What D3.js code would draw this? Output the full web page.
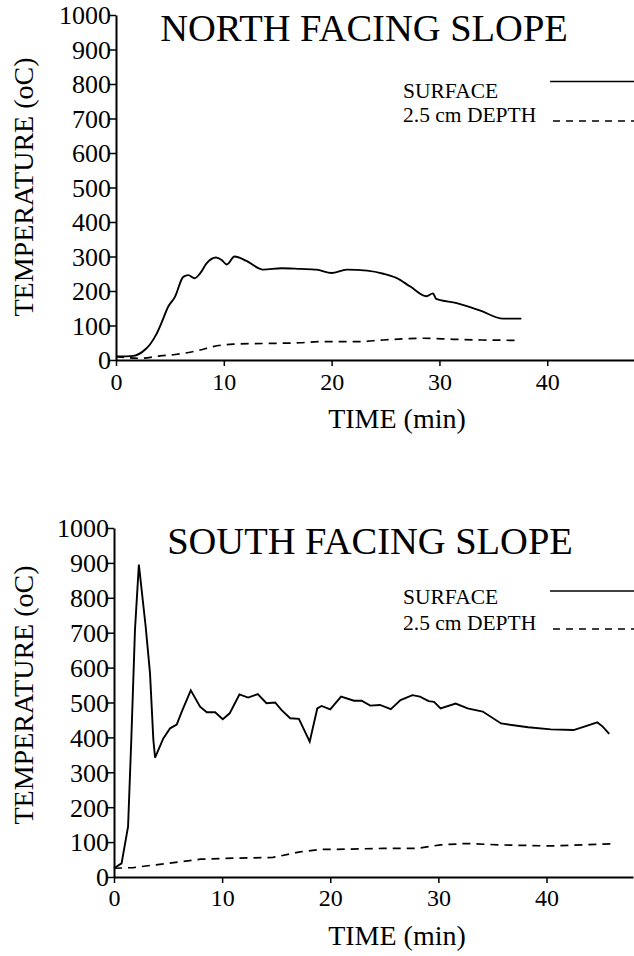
<!DOCTYPE html>
<html>
<head>
<meta charset="utf-8">
<script src="https://cdn.jsdelivr.net/npm/d3@7/dist/d3.min.js"></script>
</head>
<body style="margin:0">
<svg id="chart" width="634" height="956" font-family="Liberation Serif"></svg>
<script>
// ---- Data ----
const xTicks = [0, 10, 20, 30, 40];
const yTicks = [0, 100, 200, 300, 400, 500, 600, 700, 800, 900, 1000];
const legendLabels = ["SURFACE", "2.5 cm DEPTH"];
const panelTitles = ["NORTH FACING SLOPE", "SOUTH FACING SLOPE"];
const xLabel = "TIME (min)";
const yLabel = "TEMPERATURE (oC)";

const northSurfaceTime = [0, 1.6, 2.5, 3.15, 3.7, 4.2, 4.85, 5.47, 6.24, 6.7, 7.3, 7.8, 8.4, 9.27, 9.8, 10.27, 11.0, 12.1, 13.65, 15.36, 17.1, 18.6, 20.0, 21.4, 23.3, 24.8, 26.0, 27.3, 28.8, 29.4, 29.7, 31.6, 33.8, 35.9, 37.6];
const northSurfaceTemp = [10, 12, 25, 45, 72, 106, 155, 183, 241, 246, 237, 251, 280, 297, 290, 277, 300, 287, 262, 266, 264, 262, 252, 262, 259, 250, 238, 213, 185, 193, 177, 165, 143, 120, 120];

const northDepthTime = [0, 2.2, 4.1, 5.5, 6.6, 7.8, 9.0, 10.9, 14, 17.1, 18.9, 22.3, 24.8, 28.5, 31.3, 34, 37.2];
const northDepthTemp = [10, 5, 12, 16, 21, 29, 39, 46, 48, 50, 53, 53, 58, 63, 60, 58, 57];

const southSurfaceTime = [0, 0.7, 1.3, 1.6, 1.94, 2.3, 2.93, 3.33, 3.64, 3.8, 4.56, 5.19, 5.8, 6.27, 7.1, 7.96, 8.58, 9.35, 10.06, 10.7, 11.6, 12.4, 13.3, 14.1, 14.9, 15.5, 16.3, 17.1, 18.1, 18.8, 19.2, 20.0, 21.0, 22.2, 22.9, 23.7, 24.6, 25.6, 26.5, 27.6, 28.3, 29.1, 29.6, 30.2, 31.6, 32.7, 34.1, 35.8, 38.3, 40.4, 42.5, 43.5, 44.7, 45.2, 45.8];
const southSurfaceTemp = [25, 39, 144, 393, 708, 895, 717, 584, 393, 342, 397, 426, 437, 474, 535, 488, 472, 472, 452, 469, 523, 514, 524, 498, 500, 478, 455, 453, 388, 483, 490, 480, 517, 505, 505, 491, 493, 481, 507, 521, 517, 504, 502, 483, 497, 483, 474, 440, 429, 423, 421, 431, 443, 431, 410];

const southDepthTime = [0, 1.8, 4.9, 8, 11, 14.7, 17.2, 19.1, 20.3, 24.9, 28.0, 30.2, 32.6, 35.7, 40.3, 46];
const southDepthTemp = [25, 27, 39, 51, 54, 56, 72, 79, 79, 82, 82, 92, 96, 92, 89, 95];

// ---- Layout ----
const panels = [
  { title: panelTitles[0], sT: northSurfaceTime, sV: northSurfaceTemp, dT: northDepthTime, dV: northDepthTemp,
    x0: 116, x1: 633.5, yTop: 15, yBot: 360, titleX: 364, titleY: 41, yLabelY: 187,
    tickLabelY: 390, xLabelX: 397, xLabelY: 428, legY: [98, 122], legLineY: [81.5, 121], curve: d3.curveMonotoneX },
  { title: panelTitles[1], sT: southSurfaceTime, sV: southSurfaceTemp, dT: southDepthTime, dV: southDepthTemp,
    x0: 114, x1: 633, yTop: 528, yBot: 877, titleX: 370, titleY: 554, yLabelY: 695,
    tickLabelY: 906, xLabelX: 397, xLabelY: 945, legY: [604, 630], legLineY: [591, 629], curve: d3.curveLinear }
];

const svg = d3.select("#chart");

function serif(sel, size) {
  return sel.attr("font-family", "Liberation Serif").attr("font-size", size)
    .style("font-family", "'Liberation Serif', monospace").style("font-size", size + "px");
}

panels.forEach(p => {
  const g = svg.append("g");
  const x = d3.scaleLinear().domain([0, 48]).range([p.x0, p.x1]);
  const y = d3.scaleLinear().domain([0, 1000]).range([p.yBot, p.yTop]);

  // y axis
  const yAxis = g.append("g").attr("transform", `translate(${p.x0},0)`)
    .call(d3.axisLeft(y).tickValues(yTicks).tickSize(8).tickSizeOuter(0).tickPadding(3).tickFormat(d3.format("d")));
  yAxis.attr("font-family", "Liberation Serif").attr("font-size", 26);
  yAxis.select(".domain").attr("stroke-width", 2);
  yAxis.selectAll(".tick line").attr("stroke-width", 1.5);
  serif(yAxis.selectAll("text"), 26).attr("dy", "0.34em").attr("x", -5);

  // x axis
  const xAxis = g.append("g").attr("transform", `translate(0,${p.yBot})`)
    .call(d3.axisBottom(x).tickValues(xTicks).tickSize(6).tickSizeOuter(0).tickFormat(d3.format("d")));
  xAxis.attr("font-family", "Liberation Serif").attr("font-size", 24);
  xAxis.select(".domain").attr("stroke-width", 2);
  xAxis.selectAll(".tick line").attr("stroke-width", 1.5);
  serif(xAxis.selectAll("text"), 24).attr("y", p.tickLabelY - p.yBot).attr("dy", 0);

  // lines
  const surf = p.sT.map((t, i) => [t, p.sV[i]]);
  const dep = p.dT.map((t, i) => [t, p.dV[i]]);
  const line = d3.line().x(d => x(d[0])).y(d => y(d[1])).curve(p.curve);
  g.append("path").datum(surf).attr("d", line).attr("fill", "none").attr("stroke", "#000").attr("stroke-width", 1.9);
  g.append("path").datum(dep).attr("d", line).attr("fill", "none").attr("stroke", "#000").attr("stroke-width", 1.7)
    .attr("stroke-dasharray", "8,6");

  const txt = (xx, yy, size, s, anchor) => serif(g.append("text").attr("x", xx).attr("y", yy)
    .attr("text-anchor", anchor || "start").attr("fill", "#000"), size).text(s);

  // title
  txt(p.titleX, p.titleY, 38.5, p.title, "middle");

  // axis labels
  serif(g.append("text").attr("transform", `translate(33,${p.yLabelY}) rotate(-90)`).attr("text-anchor", "middle"), 28)
    .text(yLabel);
  txt(p.xLabelX, p.xLabelY, 28, xLabel, "middle");

  // legend
  txt(403, p.legY[0], 21.5, legendLabels[0]);
  txt(403, p.legY[1], 21.5, legendLabels[1]);
  g.append("line").attr("x1", 550).attr("x2", 634).attr("y1", p.legLineY[0]).attr("y2", p.legLineY[0])
    .attr("stroke", "#000").attr("stroke-width", 1.6);
  g.append("line").attr("x1", 553).attr("x2", 634).attr("y1", p.legLineY[1]).attr("y2", p.legLineY[1])
    .attr("stroke", "#000").attr("stroke-width", 1.5).attr("stroke-dasharray", "7,6");
});
</script>
</body>
</html>
